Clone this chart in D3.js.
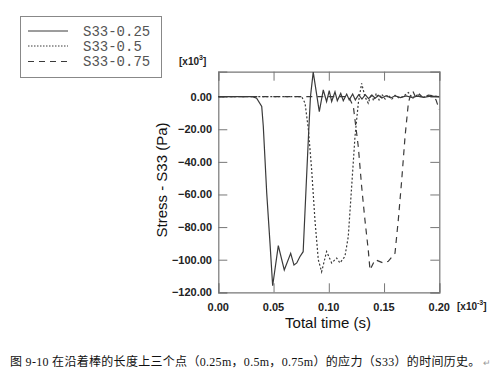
<!DOCTYPE html>
<html><head><meta charset="utf-8">
<script src="https://cdn.jsdelivr.net/npm/d3@7"></script>
<style>
html,body{margin:0;padding:0;background:#fff;}
svg{display:block;}
</style></head>
<body>
<svg id="chart" width="494" height="380"></svg>
<script>
// ---- data (time in 1e-3 s, stress in 1e3 Pa) ----
const seriesNames = ["S33-0.25", "S33-0.5", "S33-0.75"];
const s025 = [[0,0],[0.031,0],[0.0347,-1],[0.0393,-6],[0.0407,-18],[0.0423,-39],[0.0438,-59],[0.0468,-90],[0.0492,-116],
  [0.0543,-91.4],[0.0597,-106.3],[0.0655,-96.1],[0.0685,-103.3],[0.071,-102],[0.0738,-98.2],[0.0768,-95.1],
  [0.0795,-55],[0.0819,-20],[0.0834,0],[0.0859,15],[0.0914,-9.2],[0.095,4.1],[0.098,-3],[0.1004,3.7],[0.1026,-3],
  [0.1056,3],[0.1077,-2.5],[0.1108,2],[0.1131,-2.5],[0.1162,1.6],[0.1185,-2],[0.1216,1.6],[0.124,-2],[0.127,1.2],
  [0.130,-1.5],[0.133,1.2],[0.136,-1.2],[0.139,1],[0.142,-1],[0.145,0.8],[0.148,-0.8],[0.152,0.6],[0.156,-0.8],
  [0.160,0.5],[0.165,-0.6],[0.170,0.4],[0.175,-0.5],[0.180,0.3],[0.186,-0.4],[0.192,0.3],[0.2,0]];
const s05 = [[0,0],[0.0755,0],[0.0785,-4],[0.0815,-20],[0.0845,-45],[0.0875,-76],[0.0905,-100],[0.0935,-107.4],
  [0.098,-95],[0.1026,-102],[0.1071,-99],[0.1101,-102],[0.1146,-98],[0.1176,-86],[0.1207,-55],[0.1237,-24.5],
  [0.1267,-4],[0.1297,8.2],[0.1327,0],[0.1357,-4],[0.1385,1.5],[0.1405,-2.5],[0.143,2],[0.1455,-2],[0.148,1.5],
  [0.151,-1.5],[0.154,1],[0.157,-1.5],[0.160,0.8],[0.164,-1],[0.168,0.5],[0.172,2.5],[0.176,-1],[0.180,1],
  [0.185,-0.5],[0.19,0.5],[0.2,0]];
const s075 = [[0,0],[0.118,0],[0.1222,-6],[0.1267,-30.7],[0.1297,-55],[0.1327,-75.6],[0.1357,-94],[0.1373,-106.3],
  [0.1418,-100],[0.1493,-102],[0.1538,-101],[0.1599,-96],[0.1629,-75.6],[0.166,-51],[0.169,-24.5],[0.172,-4],
  [0.1735,0],[0.176,3.5],[0.179,-1],[0.182,1.5],[0.186,-1],[0.19,1],[0.194,0.5],[0.197,-2],[0.2,-8]];
const xTicks = [0, 0.05, 0.10, 0.15, 0.20];
const yTicks = [-120, -100, -80, -60, -40, -20, 0];
const caption = "图 9-10  在沿着棒的长度上三个点（0.25m，0.5m，0.75m）的应力（S33）的时间历史。";

// ---- layout ----
const svg = d3.select("#chart");
svg.append("rect").attr("width",494).attr("height",380).attr("fill","#fff");
const L = 218.3, R = 439.3, T = 71.7, B = 292.3;
const x = d3.scaleLinear().domain([0, 0.2]).range([L, R]);
const y = d3.scaleLinear().domain([-120, 15.3]).range([B, T]);
const frameCol = "#777", lineCol = "#3a3a3a";

svg.append("defs").append("clipPath").attr("id","clip")
  .append("rect").attr("x",L).attr("y",T).attr("width",R-L).attr("height",B-T);

// axes with inward ticks
const tk = 9;
const axB = d3.axisTop(x).tickValues(xTicks).tickSize(tk).tickFormat("");
const axT = d3.axisBottom(x).tickValues(xTicks).tickSize(tk).tickFormat("");
const axL = d3.axisRight(y).tickValues(yTicks).tickSize(tk).tickFormat("");
const axR = d3.axisLeft(y).tickValues(yTicks).tickSize(tk).tickFormat("");
[[axB,`translate(0,${B})`],[axT,`translate(0,${T})`],[axL,`translate(${L},0)`],[axR,`translate(${R},0)`]]
 .forEach(([a,t])=>{
   const g = svg.append("g").attr("transform",t).call(a);
   g.selectAll("path").attr("stroke",frameCol).attr("stroke-width",1.2);
   g.selectAll("line").attr("stroke",frameCol).attr("stroke-width",1);
 });

// tick labels
const lblFont = "'Liberation Sans', Arial, sans-serif";
svg.append("g").selectAll("text").data(xTicks).join("text")
  .attr("x",d=>x(d)).attr("y",311).attr("text-anchor","middle")
  .attr("font-family",lblFont).attr("font-size",11).attr("font-weight","bold").attr("fill","#222")
  .text(d=>d3.format(".2f")(d));
svg.append("g").selectAll("text").data(yTicks).join("text")
  .attr("x",212).attr("y",d=>y(d)+4).attr("text-anchor","end")
  .attr("font-family",lblFont).attr("font-size",11).attr("font-weight","bold").attr("fill","#222")
  .text(d=>d3.format(".2f")(d));

// multipliers
const m1 = svg.append("text").attr("x",179).attr("y",65).attr("font-family",lblFont)
  .attr("font-size",10).attr("font-weight","bold").attr("fill","#222");
m1.append("tspan").text("[x10");
m1.append("tspan").attr("dy",-5).attr("font-size",7).text("3");
m1.append("tspan").attr("dy",5).text("]");
const m2 = svg.append("text").attr("x",457).attr("y",310).attr("font-family",lblFont)
  .attr("font-size",10).attr("font-weight","bold").attr("fill","#222");
m2.append("tspan").text("[x10");
m2.append("tspan").attr("dy",-5).attr("font-size",7).text("-3");
m2.append("tspan").attr("dy",5).text("]");

// axis titles
svg.append("text").attr("x",328).attr("y",328).attr("text-anchor","middle")
  .attr("font-family",lblFont).attr("font-size",15).attr("fill","#111").text("Total time (s)");
svg.append("text").attr("transform","translate(167,180) rotate(-90)").attr("text-anchor","middle")
  .attr("font-family",lblFont).attr("font-size",15).attr("fill","#111").text("Stress - S33 (Pa)");

// lines
const line = d3.line().x(d=>x(d[0])).y(d=>y(d[1]));
const dashes = [null, "2,2", "6,5"];
const plot = svg.append("g").attr("clip-path","url(#clip)");
[s025, s05, s075].forEach((s,i)=>{
  plot.append("path").datum(s).attr("d",line).attr("fill","none")
    .attr("stroke",lineCol).attr("stroke-width",1.2)
    .attr("stroke-dasharray",dashes[i]);
});

// legend
const lg = svg.append("g");
lg.append("rect").attr("x",20.5).attr("y",16.5).attr("width",141).attr("height",61)
  .attr("fill","#fff").attr("stroke","#888").attr("stroke-width",1);
const rowY = [31, 46, 61.5];
const legDash = [null, "1.5,1.5", "6,5"];
seriesNames.forEach((n,i)=>{
  lg.append("line").attr("x1",28).attr("x2",68).attr("y1",rowY[i]).attr("y2",rowY[i])
    .attr("stroke",lineCol).attr("stroke-width",1).attr("stroke-dasharray",legDash[i]);
  lg.append("text").attr("x",83).attr("y",rowY[i]+4.5).attr("font-family","'Liberation Mono', 'Courier New', monospace")
    .attr("font-size",14).attr("fill","#555").text(n);
});

// caption
const cap = svg.append("text").attr("x",10).attr("y",366)
  .attr("font-family","'Liberation Serif', 'Noto Sans CJK SC', serif").attr("font-size",12)
  .attr("letter-spacing",0.3).attr("fill","#111");
cap.append("tspan").text(caption);
cap.append("tspan").attr("font-size",9).attr("fill","#999").attr("dx",2).text("↵");
</script>
</body></html>
